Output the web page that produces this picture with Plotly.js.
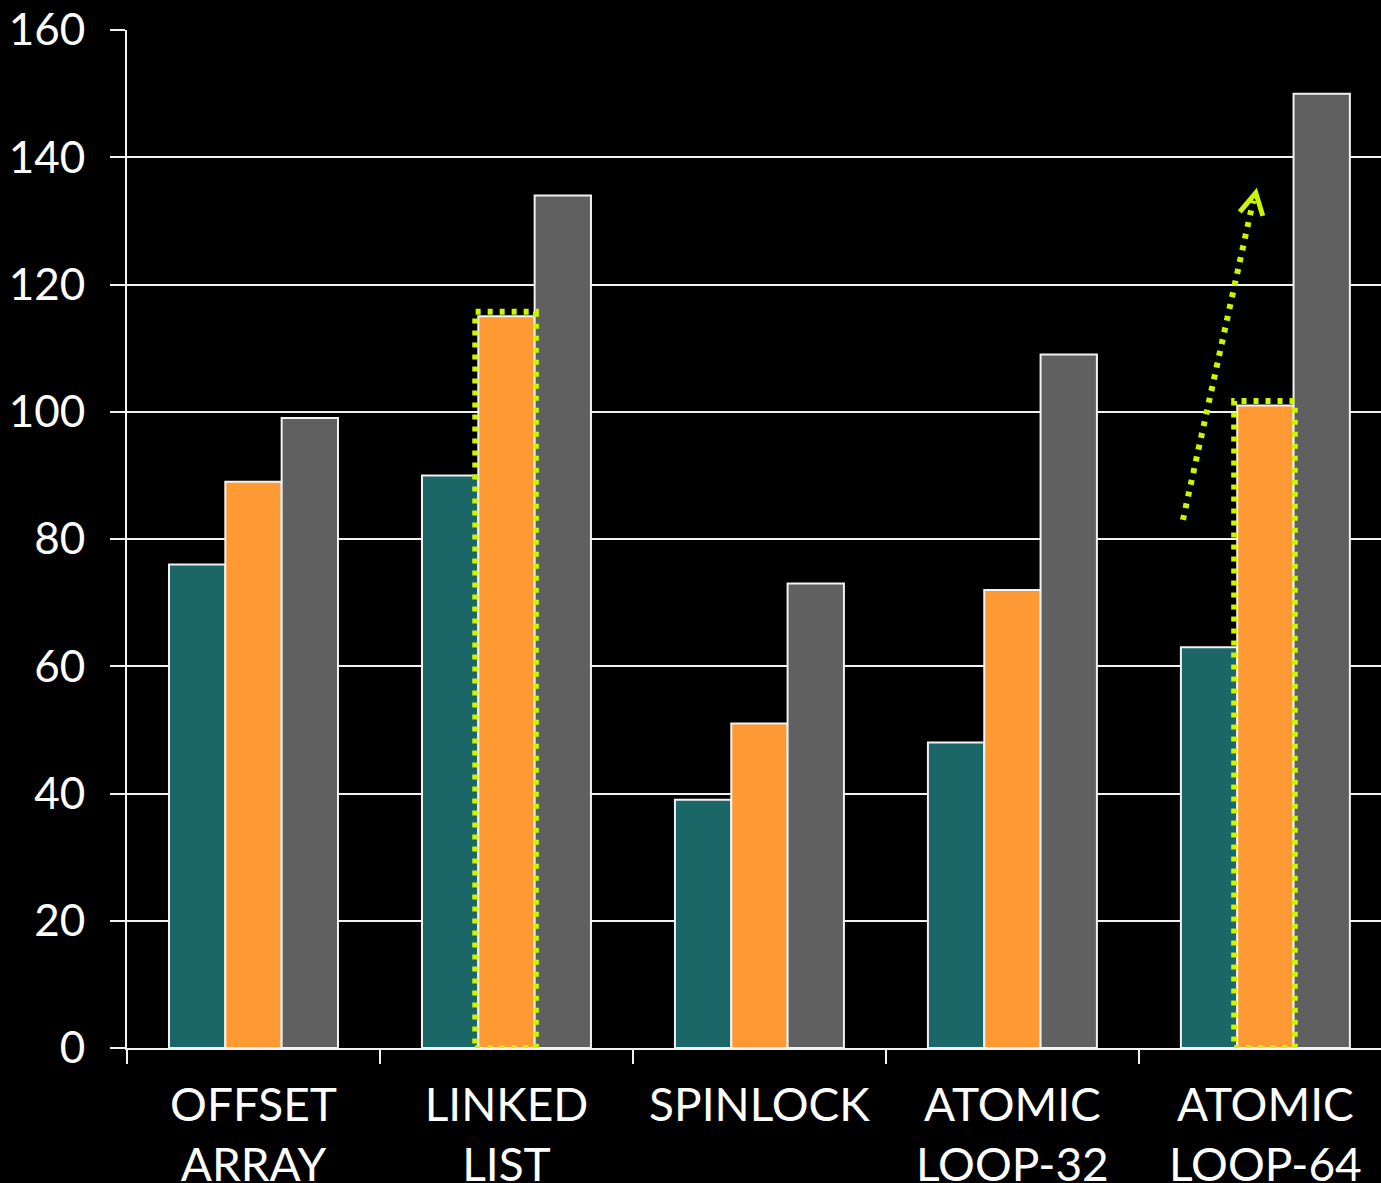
<!DOCTYPE html>
<html>
<head>
<meta charset="utf-8">
<script src="https://cdn.plot.ly/plotly-3.0.1.min.js"></script>
<style>html,body{margin:0;padding:0;background:#000;}#chart{width:1381px;height:1183px;}</style>
</head>
<body>
<div id="chart"></div>
<script>
const categories = ['OFFSET<br>ARRAY', 'LINKED<br>LIST', 'SPINLOCK', 'ATOMIC<br>LOOP-32', 'ATOMIC<br>LOOP-64'];
const seriesTeal = [76, 90, 39, 48, 63];
const seriesOrange = [89, 115, 51, 72, 101];
const seriesGray = [99, 134, 73, 109, 150];
const yTicks = [0, 20, 40, 60, 80, 100, 120, 140, 160];
const highlighted = [1, 4];          // categories whose orange bar is boxed
const arrowFrom = [3.674, 83];       // dotted arrow start (category units, value)
const arrowTo = [3.962, 134.4];      // dotted arrow tip

const LIME = '#ccf500';
const FONT = 'Lato, "Open Sans", sans-serif';
const barLine = {color: '#f2f2f2', width: 2};

const traces = [
  {type: 'bar', x: categories, y: seriesTeal, marker: {color: '#1b6666', line: barLine}},
  {type: 'bar', x: categories, y: seriesOrange, marker: {color: '#ff9933', line: barLine}},
  {type: 'bar', x: categories, y: seriesGray, marker: {color: '#606060', line: barLine}}
];

const bargap = 0.332;
const barW = (1 - bargap) / 3;
const dotted = {color: LIME, width: 6, dash: '5px,7px'};
const shapes = highlighted.map(i => ({
  type: 'rect', xref: 'x', yref: 'y', layer: 'above',
  x0: i - barW / 2 - 0.012, x1: i + barW / 2 + 0.005,
  y0: 0, y1: seriesOrange[i] + 0.7,
  line: dotted
}));
shapes.push({
  type: 'line', xref: 'x', yref: 'y', layer: 'above',
  x0: arrowFrom[0], y0: arrowFrom[1], x1: arrowTo[0] - 0.01, y1: arrowTo[1] - 1.2,
  line: dotted
});
shapes.push({
  type: 'path', xref: 'x', yref: 'y', layer: 'above',
  xsizemode: 'pixel', ysizemode: 'pixel', xanchor: arrowTo[0], yanchor: arrowTo[1],
  path: 'M -16,-19 L 0,0 L 7,-23',
  line: {color: LIME, width: 5}
});

const layout = {
  width: 1381, height: 1183,
  paper_bgcolor: '#000', plot_bgcolor: '#000',
  margin: {l: 127, r: 0, t: 30, b: 135},
  showlegend: false,
  barmode: 'group', bargap: bargap, bargroupgap: 0,
  font: {family: FONT, color: '#ffffff', size: 44},
  xaxis: {
    type: 'category', range: [-0.5, 4.457],
    tickson: 'boundaries', ticks: 'outside', ticklen: 14, tickwidth: 2, tickcolor: '#f2f2f2',
    showline: true, linecolor: '#f2f2f2', linewidth: 2, showgrid: false, zeroline: false,
    tickfont: {family: FONT, size: 46, color: '#ffffff'}, ticklabelstandoff: 16, fixedrange: true
  },
  yaxis: {
    range: [0, 160], tickmode: 'array', tickvals: yTicks,
    ticks: 'outside', ticklen: 15, tickwidth: 2, tickcolor: '#f2f2f2',
    showline: true, linecolor: '#f2f2f2', linewidth: 2,
    showgrid: true, gridcolor: '#f2f2f2', gridwidth: 2, zeroline: false,
    tickfont: {family: FONT, size: 44, color: '#ffffff'}, ticklabelstandoff: 16, fixedrange: true
  },
  shapes: shapes
};

Plotly.newPlot('chart', traces, layout, {displayModeBar: false, staticPlot: true});
</script>
</body>
</html>
